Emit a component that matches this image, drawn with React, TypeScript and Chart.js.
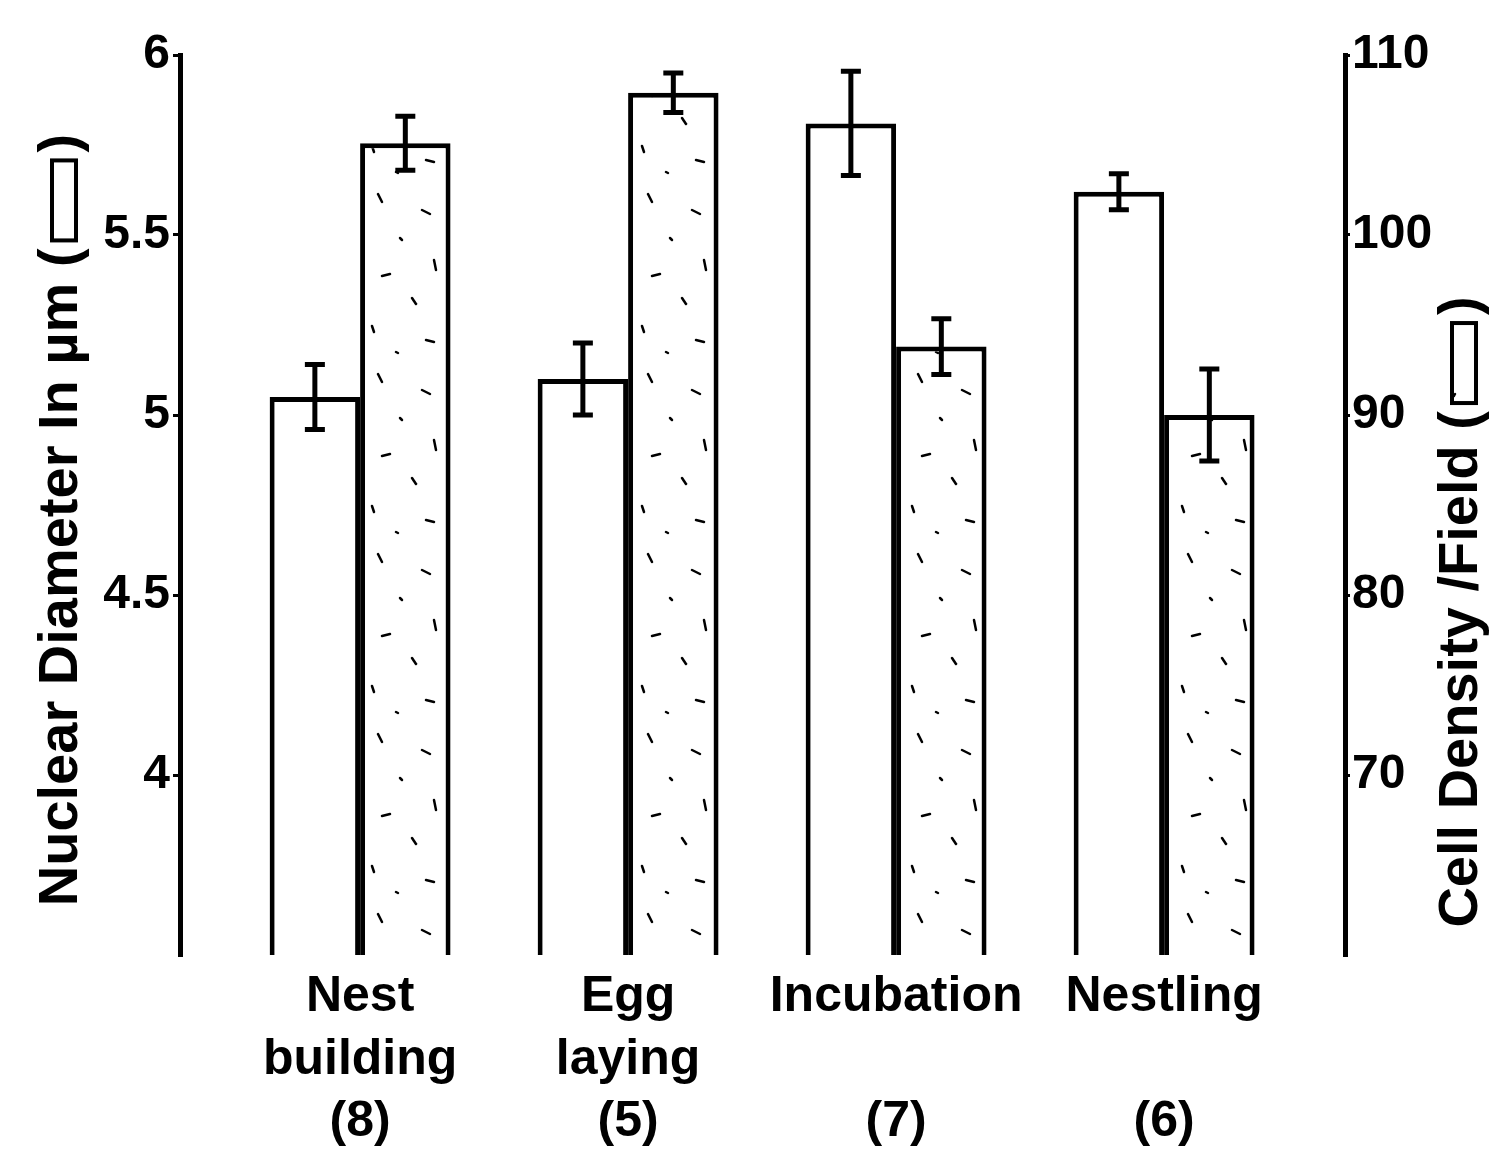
import React, { useEffect, useRef } from "react";
import { Chart, registerables } from "chart.js";

Chart.register(...registerables);

// ---- data ----
const categories: string[][] = [
  ["Nest", "building", "(8)"],
  ["Egg", "laying", "(5)"],
  ["Incubation", "", "(7)"],
  ["Nestling", "", "(6)"],
];
const categoryPositions = [1, 2, 3, 4];
const nuclearDiameter = [5.05, 5.1, 5.81, 5.62];
const nuclearErr = [0.09, 0.1, 0.145, 0.05];
const cellDensity = [105.1, 107.9, 93.8, 90.0];
const densityErr = [1.5, 1.1, 1.55, 2.55];
const leftTicks = [4, 4.5, 5, 5.5, 6];
const rightTicks = [70, 80, 90, 100, 110];
const leftRange = [3.5, 6];
const rightRange = [60, 110];
const xRange = [0.328, 4.675];
const leftTitle = "Nuclear Diameter In µm";
const rightTitle = "Cell Density /Field";

const FONT = '"Liberation Sans", Arial, "DejaVu Sans", sans-serif';

function makeStipple(): CanvasPattern | string {
  const c = document.createElement("canvas");
  c.width = 90;
  c.height = 180;
  const g = c.getContext("2d");
  if (!g) return "#fff";
  g.fillStyle = "#fff";
  g.fillRect(0, 0, 90, 180);
  g.strokeStyle = "#000";
  g.lineWidth = 2.5;
  g.lineCap = "round";
  const dashes = [
    [18, 14, 22, 22], [62, 30, 70, 34], [40, 58, 42, 60], [74, 80, 76, 90],
    [22, 96, 30, 94], [52, 118, 56, 124], [12, 146, 14, 152], [66, 160, 74, 162],
    [36, 172, 38, 173],
  ];
  dashes.forEach(([x1, y1, x2, y2]) => {
    g.beginPath();
    g.moveTo(x1, y1);
    g.lineTo(x2, y2);
    g.stroke();
  });
  return g.createPattern(c, "repeat") || "#fff";
}

function drawVerticalTitle(ctx: CanvasRenderingContext2D, text: string, cx: number, cy: number, fill: CanvasPattern | string) {
  const open = text + " (";
  const close = ")";
  const boxLen = 80, boxThick = 24, gap = 8;
  const w1 = ctx.measureText(open).width;
  const w2 = ctx.measureText(close).width;
  const total = w1 + gap + boxLen + gap + w2;
  ctx.save();
  ctx.translate(cx, cy);
  ctx.rotate(-Math.PI / 2);
  ctx.textBaseline = "middle";
  ctx.textAlign = "left";
  let x = -total / 2;
  ctx.fillStyle = "#000";
  ctx.fillText(open, x, 0);
  x += w1 + gap;
  ctx.fillStyle = fill as any;
  ctx.fillRect(x, -boxThick / 2 + 2, boxLen, boxThick);
  ctx.lineWidth = 4;
  ctx.strokeStyle = "#000";
  ctx.strokeRect(x, -boxThick / 2 + 2, boxLen, boxThick);
  x += boxLen + gap;
  ctx.fillStyle = "#000";
  ctx.fillText(close, x, 0);
  ctx.restore();
}

export default function App() {
  const ref = useRef<HTMLCanvasElement>(null);

  useEffect(() => {
    const canvas = ref.current;
    if (!canvas) return;
    const stipple = makeStipple();
    const errors = [nuclearErr, densityErr];
    const values = [nuclearDiameter, cellDensity];

    const errorBars = {
      id: "errorBars",
      afterDatasetsDraw(chart: any) {
        const ctx = chart.ctx;
        ctx.save();
        ctx.strokeStyle = "#000";
        chart.data.datasets.forEach((_d: any, di: number) => {
          const meta = chart.getDatasetMeta(di);
          const scale = chart.scales[meta.yAxisID];
          meta.data.forEach((bar: any, i: number) => {
            const v = values[di][i];
            const e = errors[di][i];
            const yHi = scale.getPixelForValue(v + e);
            const yLo = scale.getPixelForValue(v - e);
            const x = bar.x;
            ctx.lineWidth = 5;
            ctx.beginPath();
            ctx.moveTo(x, yHi);
            ctx.lineTo(x, yLo);
            ctx.stroke();
            ctx.lineWidth = 5;
            ctx.beginPath();
            ctx.moveTo(x - 10, yHi);
            ctx.lineTo(x + 10, yHi);
            ctx.moveTo(x - 10, yLo);
            ctx.lineTo(x + 10, yLo);
            ctx.stroke();
          });
        });
        ctx.restore();
      },
    };

    const titles = {
      id: "axisTitles",
      afterDraw(chart: any) {
        const ctx = chart.ctx;
        ctx.save();
        ctx.font = `bold 56px ${FONT}`;
        drawVerticalTitle(ctx, leftTitle, 62, 520, "#fff");
        drawVerticalTitle(ctx, rightTitle, 1462, 612, stipple);
        ctx.restore();
      },
    };

    const tickFont = { family: FONT, size: 48, weight: "bold" as const, lineHeight: 1.2 };

    const chart = new Chart(canvas, {
      type: "bar",
      data: {
        datasets: [
          {
            label: "Nuclear Diameter",
            data: categoryPositions.map((x, i) => ({ x, y: nuclearDiameter[i] })),
            yAxisID: "y",
            backgroundColor: "#fff",
            borderColor: "#000",
            borderWidth: 5,
            borderSkipped: false,
            categoryPercentage: 0.675,
            barPercentage: 1,
          },
          {
            label: "Cell Density",
            data: categoryPositions.map((x, i) => ({ x, y: cellDensity[i] })),
            yAxisID: "y1",
            backgroundColor: stipple as any,
            borderColor: "#000",
            borderWidth: 5,
            borderSkipped: false,
            categoryPercentage: 0.675,
            barPercentage: 1,
          },
        ] as any,
      },
      options: {
        responsive: false,
        animation: false,
        layout: { padding: { top: 55, left: 0, right: 0, bottom: 0 } },
        plugins: { legend: { display: false }, tooltip: { enabled: false } },
        scales: {
          x: {
            type: "linear",
            min: xRange[0],
            max: xRange[1],
            offset: false,
            grid: { display: false, drawTicks: false },
            border: { display: false },
            afterBuildTicks: (s: any) => {
              s.ticks = categoryPositions.map((v) => ({ value: v }));
            },
            afterFit: (s: any) => {
              s.height = 205;
            },
            ticks: {
              autoSkip: false,
              maxRotation: 0,
              minRotation: 0,
              padding: 11,
              color: "#000",
              font: { family: FONT, size: 50, weight: "bold", lineHeight: 1.25 },
              callback: (v: any) => categories[categoryPositions.indexOf(Number(v))] || "",
            },
          },
          y: {
            type: "linear",
            position: "left",
            min: leftRange[0],
            max: leftRange[1],
            afterBuildTicks: (s: any) => {
              s.ticks = leftTicks.map((v) => ({ value: v }));
            },
            afterFit: (s: any) => {
              s.width = 180;
            },
            grid: { drawOnChartArea: false, drawTicks: true, tickLength: 7, lineWidth: 3, color: "#000" },
            border: { display: true, width: 5, color: "#000" },
            ticks: {
              padding: 3,
              color: "#000",
              font: tickFont,
              callback: (v: any) => String(v),
            },
          },
          y1: {
            type: "linear",
            position: "right",
            min: rightRange[0],
            max: rightRange[1],
            afterBuildTicks: (s: any) => {
              s.ticks = rightTicks.map((v) => ({ value: v }));
            },
            afterFit: (s: any) => {
              s.width = 158;
            },
            grid: { drawOnChartArea: false, drawTicks: true, tickLength: 5, lineWidth: 3, color: "#000" },
            border: { display: true, width: 5, color: "#000" },
            ticks: {
              padding: 2,
              color: "#000",
              font: tickFont,
              callback: (v: any) => String(v),
            },
          },
        },
      } as any,
      plugins: [errorBars, titles],
    });

    return () => chart.destroy();
  }, []);

  return (
    <div style={{ position: "absolute", left: 0, top: 0, width: 1503, height: 1160, background: "#fff" }}>
      <canvas ref={ref} width={1503} height={1160} style={{ display: "block", width: 1503, height: 1160 }} />
    </div>
  );
}
